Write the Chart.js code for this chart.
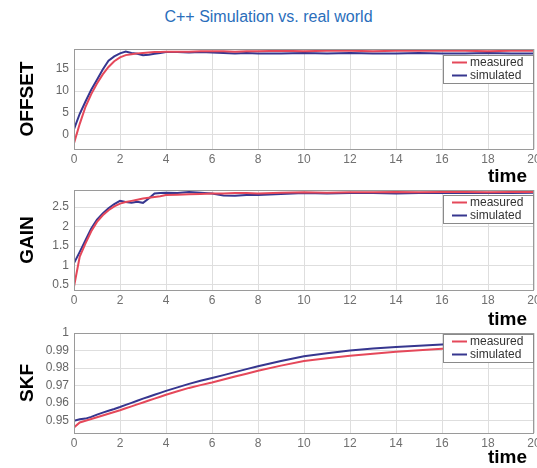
<!DOCTYPE html>
<html><head><meta charset="utf-8">
<script src="https://cdn.jsdelivr.net/npm/chart.js@4.4.0/dist/chart.umd.min.js"></script>
<style>
html,body{margin:0;padding:0;background:#fff;}
body{width:537px;height:468px;overflow:hidden;position:relative;font-family:"Liberation Sans",Arial,sans-serif;}
.panel{position:absolute;left:0;}
.panel canvas{display:block;}
#title{position:absolute;left:0;width:537px;top:9px;text-align:center;color:#2a6ebb;font-size:16px;line-height:16px;}
.time{position:absolute;right:10px;font-weight:bold;font-size:19px;line-height:19px;color:#000;}
</style></head><body>
<div id="title">C++ Simulation vs. real world</div>
<div class="panel" style="top:40px"><canvas id="c1" width="560" height="129"></canvas></div>
<div class="panel" style="top:181px"><canvas id="c2" width="560" height="129"></canvas></div>
<div class="panel" style="top:324px"><canvas id="c3" width="560" height="129"></canvas></div>
<div class="time" style="top:166px">time</div>
<div class="time" style="top:309px">time</div>
<div class="time" style="top:447px">time</div>
<script>
// ---- data ----
const time = [0,0.25,0.5,0.75,1,1.25,1.5,1.75,2,2.25,2.5,2.75,3,3.25,3.5,3.75,4,
  4.5,5,5.5,6,6.5,7,7.5,8,
  9,10,11,12,13,14,15,16,17,18,19,20];
const seriesLabels = ['measured','simulated'];

const offsetMeasured = [-1.9,2.5,6.4,9.3,11.7,13.8,15.5,16.8,17.7,18.2,18.4,18.6,18.7,18.8,18.9,18.9,19.0,
  19.0,19.0,19.1,19.1,19.1,19.0,19.1,19.1,
  19.2,19.1,19.2,19.2,19.1,19.2,19.2,19.2,19.2,19.1,19.2,19.2];
const offsetSimulated = [1.3,4.8,7.6,10.3,12.6,14.9,16.9,17.9,18.6,19.0,18.7,18.5,18.2,18.3,18.5,18.7,18.9,
  18.9,18.8,18.9,18.8,18.7,18.6,18.7,18.6,
  18.6,18.7,18.6,18.7,18.6,18.6,18.7,18.6,18.6,18.7,18.6,18.6];

const gainMeasured = [0.46,1.23,1.57,1.88,2.12,2.29,2.42,2.52,2.59,2.63,2.66,2.69,2.72,2.74,2.76,2.78,2.81,
  2.82,2.83,2.84,2.85,2.85,2.86,2.86,2.85,
  2.87,2.88,2.87,2.88,2.88,2.89,2.88,2.89,2.89,2.88,2.89,2.89];
const gainSimulated = [1.06,1.35,1.65,1.95,2.18,2.34,2.47,2.58,2.66,2.63,2.61,2.64,2.61,2.72,2.85,2.86,2.87,
  2.86,2.89,2.87,2.85,2.80,2.79,2.81,2.81,
  2.84,2.86,2.85,2.86,2.86,2.85,2.86,2.86,2.87,2.86,2.86,2.87];

const skfMeasured = [0.9462,0.9490,0.9500,0.9510,0.9520,0.9530,0.9540,0.9550,0.9560,0.9571,0.9582,0.9593,0.9604,0.9615,0.9626,0.9637,0.9648,
  0.9668,0.9687,0.9703,0.9718,0.9735,0.9752,0.9768,0.9785,
  0.9814,0.9840,0.9856,0.9870,0.9882,0.9893,0.9902,0.9910,0.9916,0.9922,0.9927,0.9932];
const skfSimulated = [0.9500,0.9508,0.9512,0.9522,0.9535,0.9546,0.9557,0.9567,0.9578,0.9590,0.9602,0.9614,0.9626,0.9637,0.9648,0.9659,0.9670,
  0.9690,0.9710,0.9728,0.9744,0.9760,0.9777,0.9794,0.9810,
  0.9840,0.9868,0.9885,0.9900,0.9911,0.9920,0.9928,0.9935,0.9940,0.9945,0.9949,0.9952];

const xTicks = [0,2,4,6,8,10,12,14,16,18,20];
const offsetTicks = [0,5,10,15];
const gainTicks = [0.5,1,1.5,2,2.5];
const skfTicks = [0.95,0.96,0.97,0.98,0.99,1];

// ---- styling ----
const RED = '#e5485a';
const BLUE = '#36368f';
const TICK_FONT = {family:'"Liberation Sans Narrow","Liberation Sans",Arial,sans-serif', size:12};

const frameAndLegend = {
  id:'frameAndLegend',
  afterDatasetsDraw(chart, args, opts){
    const {ctx, chartArea:a} = chart;
    ctx.save();
    ctx.strokeStyle = '#9a9a9a';
    ctx.lineWidth = 1;
    ctx.strokeRect(Math.round(a.left)+0.5, Math.round(a.top)+0.5, Math.round(a.right-a.left)-1, Math.round(a.bottom-a.top));
    // legend box
    const w = 90, h = 28;
    const x = Math.round(a.right) - w - 1, y = Math.round(a.top) + opts.offsetY;
    ctx.fillStyle = '#fff';
    ctx.fillRect(x, y, w, h);
    ctx.strokeStyle = '#8a8a8a';
    ctx.strokeRect(x+0.5, y+0.5, w, h);
    ctx.font = '12px "Liberation Sans", Arial, sans-serif';
    ctx.textBaseline = 'middle';
    chart.data.datasets.forEach((ds, i) => {
      const cy = y + 7.5 + i*13;
      ctx.strokeStyle = ds.borderColor;
      ctx.lineWidth = 2;
      ctx.beginPath(); ctx.moveTo(x+9, cy); ctx.lineTo(x+24, cy); ctx.stroke();
      ctx.fillStyle = '#333';
      ctx.fillText(ds.label, x+27, cy);
    });
    ctx.restore();
  }
};

function makeChart(id, yTitle, measured, simulated, yMin, yMax, yTicks, legendOffset){
  const toPts = arr => time.map((t,i)=>({x:t, y:arr[i]}));
  return new Chart(document.getElementById(id), {
    type:'line',
    data:{datasets:[
      {label:seriesLabels[0], data:toPts(measured), borderColor:RED, borderWidth:2, pointRadius:0, fill:false},
      {label:seriesLabels[1], data:toPts(simulated), borderColor:BLUE, borderWidth:2, pointRadius:0, fill:false}
    ]},
    options:{
      responsive:false, animation:false, events:[],
      layout:{padding:{left:0, top:9, right:26, bottom:0}},
      plugins:{legend:{display:false}, tooltip:{enabled:false}, frameAndLegend:{offsetY:legendOffset}},
      scales:{
        x:{type:'linear', min:0, max:20,
          afterBuildTicks:s=>{s.ticks = xTicks.map(v=>({value:v}));},
          afterFit:s=>{s.height = 20; s.paddingLeft = 0; s.paddingRight = 0;},
          grid:{color:'#dedede', drawTicks:false},
          border:{display:false},
          ticks:{color:'#707070', font:TICK_FONT, padding:3, maxRotation:0, autoSkip:false}
        },
        y:{type:'linear', min:yMin, max:yMax,
          afterBuildTicks:s=>{s.ticks = yTicks.map(v=>({value:v}));},
          afterFit:s=>{s.width = 74; s.paddingTop = 0; s.paddingBottom = 0;},
          grid:{color:'#dedede', drawTicks:false},
          border:{display:false},
          ticks:{color:'#666', font:TICK_FONT, padding:5, callback:v=>String(v)},
          title:{display:true, text:yTitle, color:'#000', font:{family:'"Liberation Sans",Arial,sans-serif', size:19, weight:'bold'}, padding:{top:16, bottom:0}}
        }
      }
    },
    plugins:[frameAndLegend]
  });
}

makeChart('c1','OFFSET', offsetMeasured, offsetSimulated, -3.25, 19.6, offsetTicks, 6);
makeChart('c2','GAIN', gainMeasured, gainSimulated, 0.37, 2.94, gainTicks, 5);
makeChart('c3','SKF', skfMeasured, skfSimulated, 0.943, 1.0, skfTicks, 1);
</script>
</body></html>
